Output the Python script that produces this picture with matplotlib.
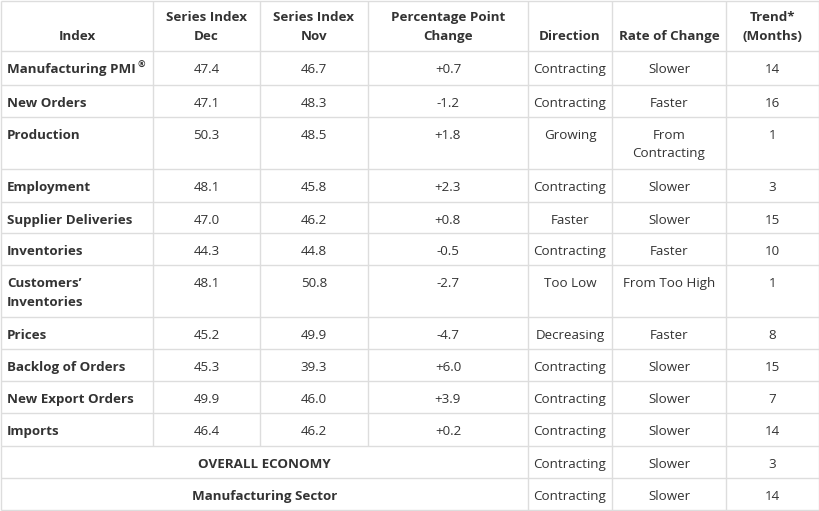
from matplotlib import pyplot as plt

plt.rcParams["font.family"] = ["Open Sans", "DejaVu Sans"]

# table contents
headers = [
    "Index",
    "Series Index\nDec",
    "Series Index\nNov",
    "Percentage Point\nChange",
    "Direction",
    "Rate of Change",
    "Trend*\n(Months)",
]
index_names = [
    "Manufacturing PMI",
    "New Orders",
    "Production",
    "Employment",
    "Supplier Deliveries",
    "Inventories",
    "Customers’\nInventories",
    "Prices",
    "Backlog of Orders",
    "New Export Orders",
    "Imports",
]
series_dec = ["47.4", "47.1", "50.3", "48.1", "47.0", "44.3", "48.1", "45.2", "45.3", "49.9", "46.4"]
series_nov = ["46.7", "48.3", "48.5", "45.8", "46.2", "44.8", "50.8", "49.9", "39.3", "46.0", "46.2"]
pp_change = ["+0.7", "-1.2", "+1.8", "+2.3", "+0.8", "-0.5", "-2.7", "-4.7", "+6.0", "+3.9", "+0.2"]
direction = ["Contracting", "Contracting", "Growing", "Contracting", "Faster", "Contracting",
             "Too Low", "Decreasing", "Contracting", "Contracting", "Contracting"]
rate_change = ["Slower", "Faster", "From\nContracting", "Slower", "Slower", "Faster",
               "From Too High", "Faster", "Slower", "Slower", "Slower"]
trend = ["14", "16", "1", "3", "15", "10", "1", "8", "15", "7", "14"]

summary_names = ["OVERALL ECONOMY", "Manufacturing Sector"]
summary_direction = ["Contracting", "Contracting"]
summary_rate = ["Slower", "Slower"]
summary_trend = ["3", "14"]

# layout in pixels
col_edges = [1, 153, 260, 368, 528, 612, 726, 819]
row_edges = [1, 51, 85, 117, 169, 202, 233, 265, 317, 349, 381, 413, 446, 478, 510]
grid_color = "#dddddd"
text_color = "#333333"
fs = 9.6

fig = plt.figure(figsize=(8.2, 5.11), dpi=100)
ax = fig.add_axes([0, 0, 1, 1])
ax.set_xlim(0, 820)
ax.set_ylim(511, 0)
ax.axis("off")

# horizontal lines
for y in row_edges:
    ax.hlines(y, col_edges[0], col_edges[-1], color=grid_color, lw=1)

# vertical lines (merged cells in the last two rows)
n_body = len(index_names)
for i, x in enumerate(col_edges):
    ax.vlines(x, row_edges[0], row_edges[n_body + 1], color=grid_color, lw=1)
    if i in (0, 4, 5, 6, 7):
        ax.vlines(x, row_edges[n_body + 1], row_edges[-1], color=grid_color, lw=1)

centers = [(col_edges[i] + col_edges[i + 1]) / 2 for i in range(len(col_edges) - 1)]

# header, bottom aligned
for j, h in enumerate(headers):
    ax.text(centers[j], row_edges[1] - 8, h, ha="center", va="bottom",
            fontsize=fs, fontweight="bold", color=text_color, linespacing=1.6)

columns = [series_dec, series_nov, pp_change, direction, rate_change, trend]
for r in range(n_body):
    y = row_edges[r + 1] + 12
    t = ax.text(col_edges[0] + 6, y, index_names[r], ha="left", va="top",
                fontsize=fs, fontweight="bold", color=text_color, linespacing=1.55)
    if r == 0:
        ax.annotate("®", xy=(1, 1), xycoords=t, xytext=(1.5, 1.5), textcoords="offset points",
                    ha="left", va="top", fontsize=6.5, fontweight="bold", color=text_color)
    for j, col in enumerate(columns):
        ax.text(centers[j + 1], y, col[r], ha="center", va="top",
                fontsize=fs, color=text_color, linespacing=1.55)

for k in range(len(summary_names)):
    y = row_edges[n_body + 1 + k] + 12
    ax.text((col_edges[0] + col_edges[4]) / 2, y, summary_names[k], ha="center", va="top",
            fontsize=fs, fontweight="bold", color=text_color)
    ax.text(centers[4], y, summary_direction[k], ha="center", va="top", fontsize=fs, color=text_color)
    ax.text(centers[5], y, summary_rate[k], ha="center", va="top", fontsize=fs, color=text_color)
    ax.text(centers[6], y, summary_trend[k], ha="center", va="top", fontsize=fs, color=text_color)

fig.savefig("out.png", dpi=100)
